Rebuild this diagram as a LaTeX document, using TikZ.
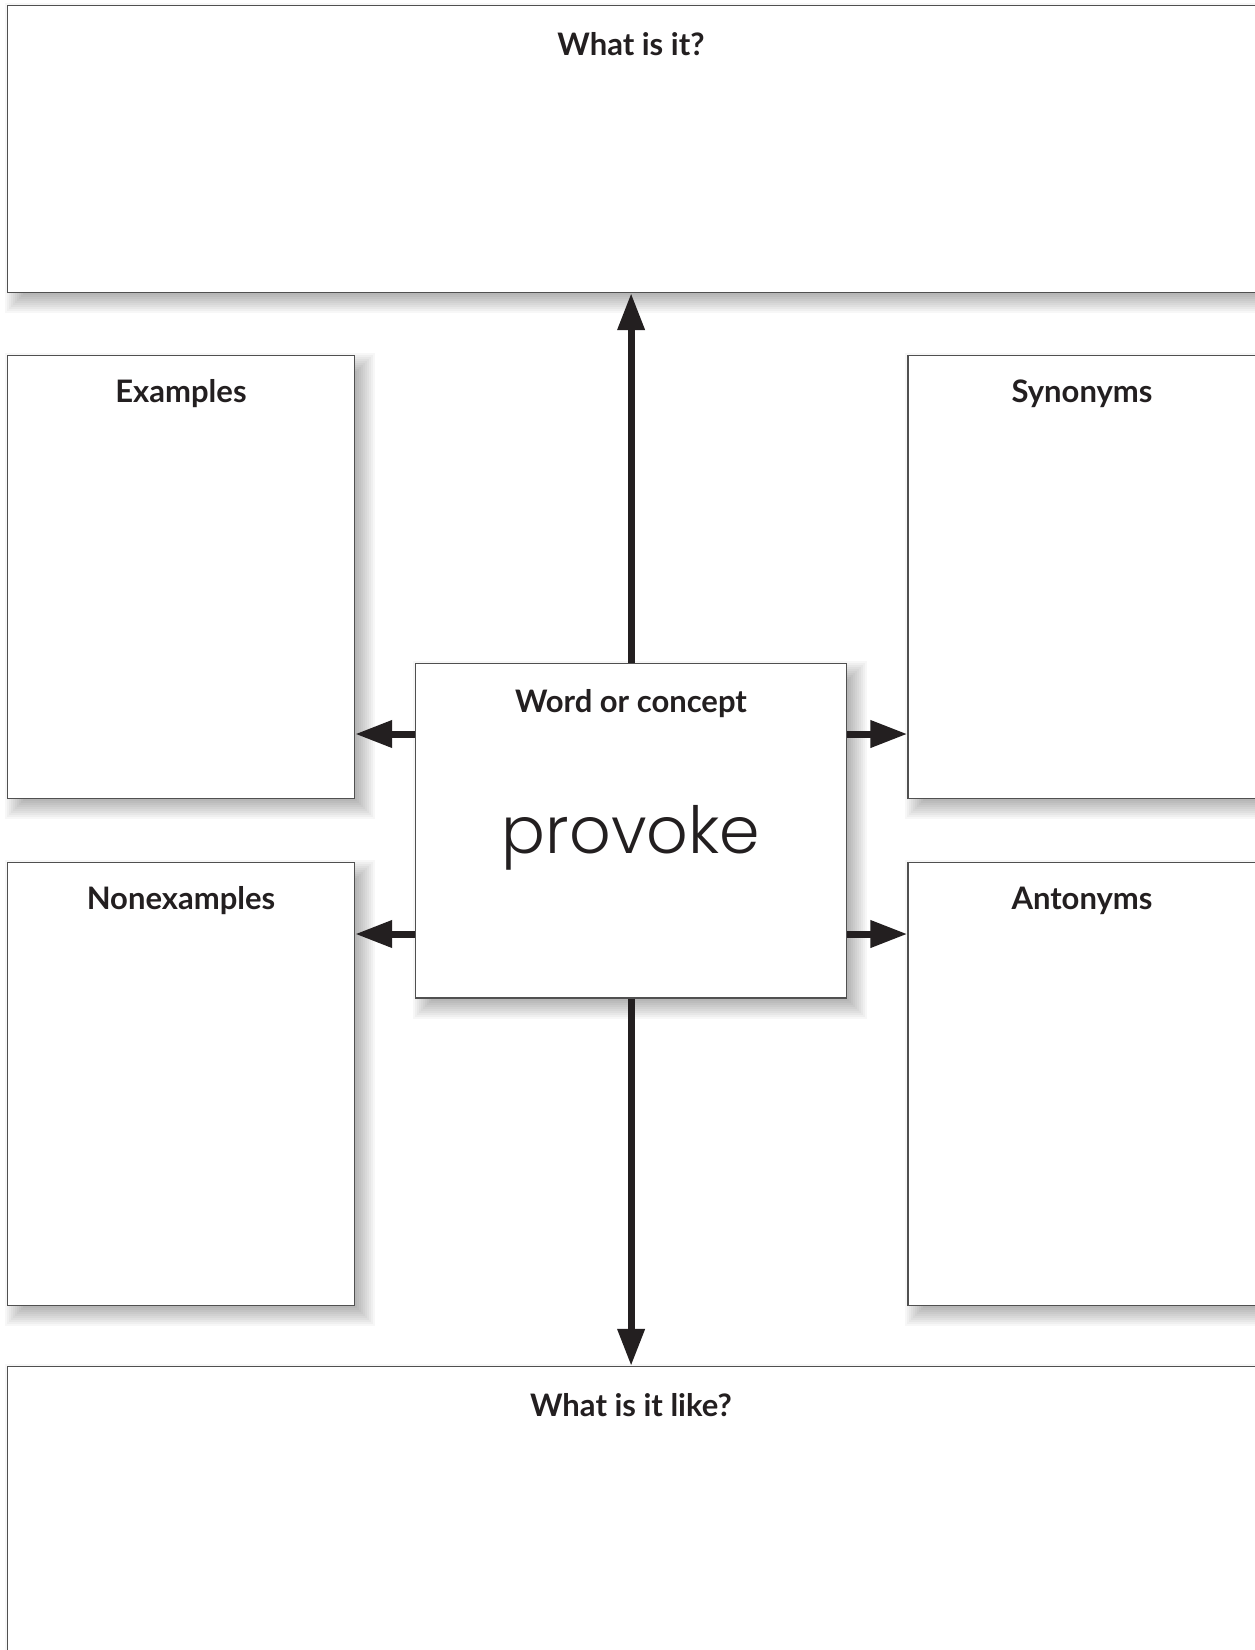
\documentclass[tikz,border=0pt]{standalone}
\usepackage{fontspec}
\setmainfont{Lato}
\newfontfamily\provfont{Poppins Light}
\usetikzlibrary{arrows.meta,backgrounds}
\definecolor{ink}{HTML}{231F20}
\definecolor{edge}{HTML}{505050}
\begin{document}
\begin{tikzpicture}[x=1pt,y=-1pt,
  panel/.style={draw=edge, line width=1.3pt, fill=white, inner sep=0pt, rectangle},
  title/.style={font=\bfseries\fontsize{31}{37}\selectfont, text=ink, anchor=base, inner sep=0pt},
  shadowlayer/.style={fill=black, opacity=0.03},
  arr/.style={draw=ink, line width=7pt, -{Triangle[length=37pt,width=26pt]}}]
\useasboundingbox (0,0) rectangle (1255,1650);
\clip (0,0) rectangle (1255,1650);
% boxes
\node[panel, minimum width=1252.6pt, minimum height=287.2pt] (top) at (633.7,148.9) {};
\node[panel, minimum width=347.1pt, minimum height=442.9pt] (ex) at (181,577) {};
\node[panel, minimum width=352pt, minimum height=442.9pt] (syn) at (1084,577) {};
\node[panel, minimum width=347.1pt, minimum height=442.9pt] (non) at (181,1084) {};
\node[panel, minimum width=352pt, minimum height=442.9pt] (ant) at (1084,1084) {};
\node[panel, minimum width=1252.6pt, minimum height=313.5pt] (bot) at (633.7,1523.25) {};
\node[panel, minimum width=431.4pt, minimum height=334.5pt] (c) at (631.1,830.75) {};
% shadows
\begin{pgfonlayer}{background}
\fill[white] (0,0) rectangle (1255,1650);
\foreach \n in {top,ex,syn,non,ant,bot,c}{
  \foreach \k [evaluate=\k as \s using -11+2*\k] in {0,...,11}{
    \fill[shadowlayer] ([xshift={(9+\s)*1pt}, yshift={(-9-\s)*1pt}]\n.south east)
      rectangle ([xshift={(9-\s)*1pt}, yshift={(-9+\s)*1pt}]\n.north west);
  }
}
\end{pgfonlayer}
% titles
\node[title] (ttop) at (631,55.5) {What is it?};
\node[title] (tex) at (181,402.5) {Examples};
\node[title] (tsyn) at (1082,402.5) {Synonyms};
\node[title] (tnon) at (181,909.5) {Nonexamples};
\node[title] (tant) at (1082,909.5) {Antonyms};
\node[title] (tc) at (631,712) {Word or concept};
\node[title] (tbot) at (631,1416.5) {What is it like?};
\node[anchor=base, inner sep=0pt, text=ink, font=\provfont\fontsize{65}{78}\selectfont] (word) at (631,853) {provoke};
% arrows
\coordinate (ra) at (0,734);
\coordinate (rb) at (0,934);
\draw[arr] (c.north) -- (c.north |- top.south);
\draw[arr] (c.south) -- (c.south |- bot.north);
\draw[arr] (c.west |- ra) -- (ex.east |- ra);
\draw[arr] (c.west |- rb) -- (non.east |- rb);
\draw[arr] (c.east |- ra) -- (syn.west |- ra);
\draw[arr] (c.east |- rb) -- (ant.west |- rb);
\end{tikzpicture}
\end{document}
